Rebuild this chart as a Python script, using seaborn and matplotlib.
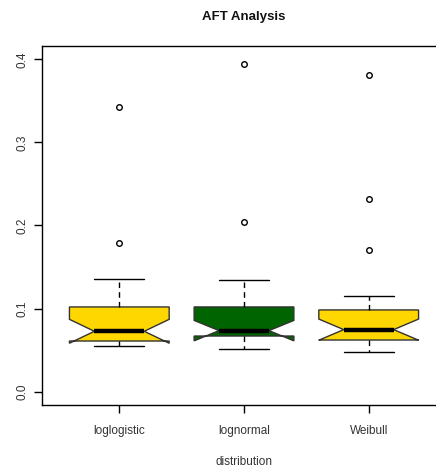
import matplotlib
matplotlib.use("Agg")
import matplotlib.pyplot as plt
import seaborn as sns
import pandas as pd

categories = ["loglogistic", "lognormal", "Weibull"]
loglogistic = [0.0546, 0.0572, 0.0589, 0.0601, 0.0610, 0.0610, 0.0648, 0.0681, 0.0705, 0.0727,
               0.0727, 0.0784, 0.0859, 0.0946, 0.1020, 0.1020, 0.1152, 0.1358, 0.1790, 0.3430]
lognormal = [0.0514, 0.0578, 0.0621, 0.0652, 0.0670, 0.0670, 0.0689, 0.0704, 0.0721, 0.0735,
             0.0735, 0.0802, 0.0873, 0.0951, 0.1020, 0.1020, 0.1148, 0.1346, 0.2040, 0.3940]
weibull = [0.0474, 0.0531, 0.0578, 0.0603, 0.0622, 0.0622, 0.0661, 0.0698, 0.0725, 0.0747,
           0.0747, 0.0792, 0.0853, 0.0921, 0.0984, 0.0984, 0.1149, 0.1707, 0.2320, 0.3815]
box_colors = ["#FFD700", "#006400", "#FFD700"]
y_ticks = [0.0, 0.1, 0.2, 0.3, 0.4]

df = pd.DataFrame({
    "distribution": [categories[0]] * len(loglogistic) + [categories[1]] * len(lognormal)
                    + [categories[2]] * len(weibull),
    "value": loglogistic + lognormal + weibull,
})

sns.set_theme(style="white")
plt.rcParams["font.family"] = ["Liberation Sans", "DejaVu Sans"]

fig = plt.figure(figsize=(4.36, 4.72), dpi=100)
ax = fig.add_axes([42 / 436, 1 - 405 / 472, (446 - 42) / 436, (405 - 46) / 472])

sns.boxplot(data=df, x="distribution", y="value", hue="distribution", order=categories,
            hue_order=categories, palette=box_colors, saturation=1, width=0.8, legend=False,
            notch=True, linecolor="black", linewidth=1.0, ax=ax,
            whiskerprops=dict(linestyle=(0, (4, 3)), color="black", linewidth=1.0),
            capprops=dict(color="black", linewidth=1.0),
            medianprops=dict(color="black", linewidth=3.2, solid_capstyle="butt"),
            boxprops=dict(edgecolor="#333333", linewidth=1.0),
            flierprops=dict(marker="o", markerfacecolor="none", markeredgecolor="black",
                            markersize=4, markeredgewidth=1.0))

ax.set_xlim(-0.62, 2.62)
ax.set_ylim(-0.016, 0.416)
ax.set_yticks(y_ticks)
ax.set_yticklabels([f"{v:.1f}" for v in y_ticks], rotation=90, va="center")
for s in ax.spines.values():
    s.set_visible(True)
    s.set_color("black")
    s.set_linewidth(1.0)
ax.tick_params(axis="both", which="both", direction="out", length=6, width=1.0,
               colors="black", labelcolor="#333333", labelsize=8.5, left=True, bottom=True)
ax.tick_params(axis="y", pad=4)
ax.tick_params(axis="x", pad=8.5)
ax.set_xlabel("distribution", fontsize=8.5, color="#333333", labelpad=13.5)
ax.set_ylabel("")
fig.text(244 / 436, 1 - 17 / 472, "AFT Analysis", ha="center", va="center",
         fontsize=9.5, fontweight="bold", color="#111111")

fig.savefig("out.png", dpi=100)
